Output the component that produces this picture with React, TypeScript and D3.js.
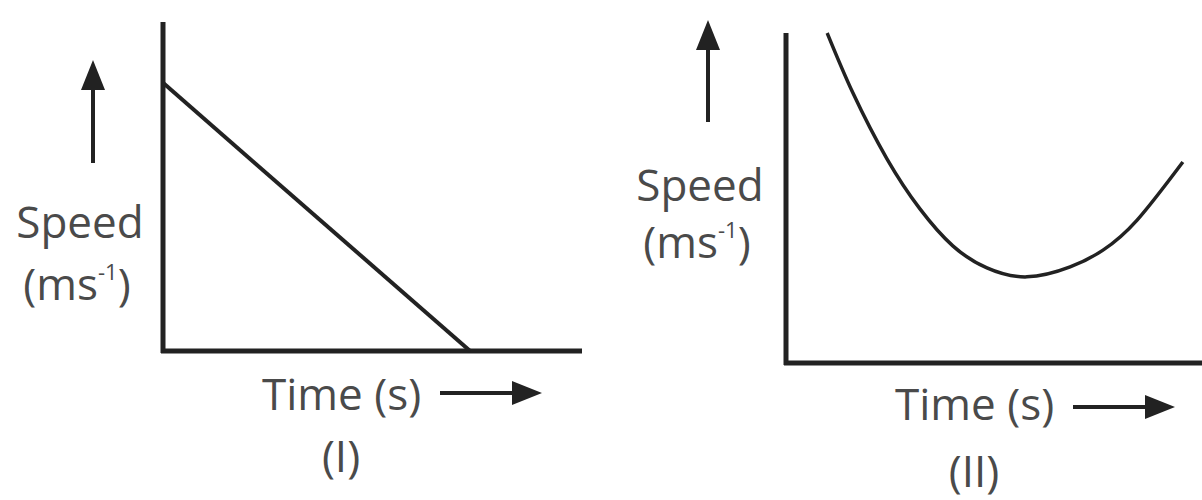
import React from "react";
import * as d3 from "d3";

// Panel (I): speed decreasing uniformly to zero
const panel1Time = [0, 7.33];
const panel1Speed = [8.15, 0];

// Panel (II): speed decreasing then increasing
const panel2Time = [0.99, 1.61, 2.43, 3.22, 4.01, 4.83, 5.79, 6.83, 7.62, 8.44, 9.54];
const panel2Speed = [10.0, 8.18, 6.18, 4.67, 3.55, 2.88, 2.61, 2.91, 3.42, 4.33, 6.09];

const yLabel = "Speed";
const yUnit = "(ms";
const yUnitSup = "-1";
const xLabel = "Time (s)";
const panelLabels = ["(I)", "(II)"];

const FONT = "'Open Sans', sans-serif";
const TEXT = "#4a4a4a";
const INK = "#222";

function Arrow({ x1, y1, x2, y2 }: { x1: number; y1: number; x2: number; y2: number }) {
  const ang = Math.atan2(y2 - y1, x2 - x1);
  const len = 30;
  const hw = 12;
  const bx = x2 - len * Math.cos(ang);
  const by = y2 - len * Math.sin(ang);
  const px = -Math.sin(ang) * hw;
  const py = Math.cos(ang) * hw;
  return (
    <g>
      <line x1={x1} y1={y1} x2={bx} y2={by} stroke={INK} strokeWidth={4} />
      <path d={`M${x2},${y2}L${bx + px},${by + py}L${bx - px},${by - py}Z`} fill={INK} />
    </g>
  );
}

function Panel({
  times, speeds, x0, x1, y0, y1, curved, labelX, speedBase, unitBase, timeX, timeBase, arrowUp, arrowRight, panelLabel, panelX, panelBase,
}: any) {
  const x = d3.scaleLinear().domain([0, 10]).range([x0, x1]);
  const y = d3.scaleLinear().domain([0, 10]).range([y0, y1]);
  const pts = times.map((t: number, i: number) => [t, speeds[i]] as [number, number]);
  const line = d3
    .line<[number, number]>()
    .x((d) => x(d[0]))
    .y((d) => y(d[1]))
    .curve(curved ? d3.curveNatural : d3.curveLinear);
  return (
    <g>
      <line x1={x(0)} y1={y(10)} x2={x(0)} y2={y(0) + 2} stroke={INK} strokeWidth={5} />
      <line x1={x(0) - 2} y1={y(0)} x2={x(10)} y2={y(0)} stroke={INK} strokeWidth={5} />
      <path d={line(pts) || ""} fill="none" stroke={INK} strokeWidth={curved ? 3.5 : 4} />
      <Arrow {...arrowUp} />
      <text x={labelX} y={speedBase} textAnchor="middle" fontFamily={FONT} fontSize={44} fill={TEXT}>
        {yLabel}
      </text>
      <text x={labelX - 3} y={unitBase} textAnchor="middle" fontFamily={FONT} fontSize={44} fill={TEXT}>
        {yUnit}
        <tspan fontSize={22} dy={-20}>{yUnitSup}</tspan>
        <tspan dy={20}>)</tspan>
      </text>
      <text x={timeX} y={timeBase} textAnchor="start" fontFamily={FONT} fontSize={44} fill={TEXT}>
        {xLabel}
      </text>
      <Arrow {...arrowRight} />
      <text x={panelX} y={panelBase} textAnchor="middle" fontFamily={FONT} fontSize={44} fill={TEXT}>
        {panelLabel}
      </text>
    </g>
  );
}

export default function App() {
  return (
    <svg width={1202} height={500} style={{ position: "absolute", left: 0, top: 0, background: "#fff" }}>
      <rect width={1202} height={500} fill="#fff" />
      <Panel
        times={panel1Time}
        speeds={panel1Speed}
        x0={163}
        x1={582}
        y0={351}
        y1={22}
        curved={false}
        labelX={80}
        speedBase={238}
        unitBase={300}
        timeX={262}
        timeBase={410}
        arrowUp={{ x1: 93, y1: 163, x2: 93, y2: 60 }}
        arrowRight={{ x1: 440, y1: 393, x2: 542, y2: 393 }}
        panelLabel={panelLabels[0]}
        panelX={341}
        panelBase={472}
      />
      <Panel
        times={panel2Time}
        speeds={panel2Speed}
        x0={786}
        x1={1202}
        y0={363}
        y1={33}
        curved={true}
        labelX={700}
        speedBase={201}
        unitBase={258}
        timeX={895}
        timeBase={420}
        arrowUp={{ x1: 708, y1: 122, x2: 708, y2: 20 }}
        arrowRight={{ x1: 1073, y1: 407, x2: 1175, y2: 407 }}
        panelLabel={panelLabels[1]}
        panelX={974}
        panelBase={487}
      />
    </svg>
  );
}
